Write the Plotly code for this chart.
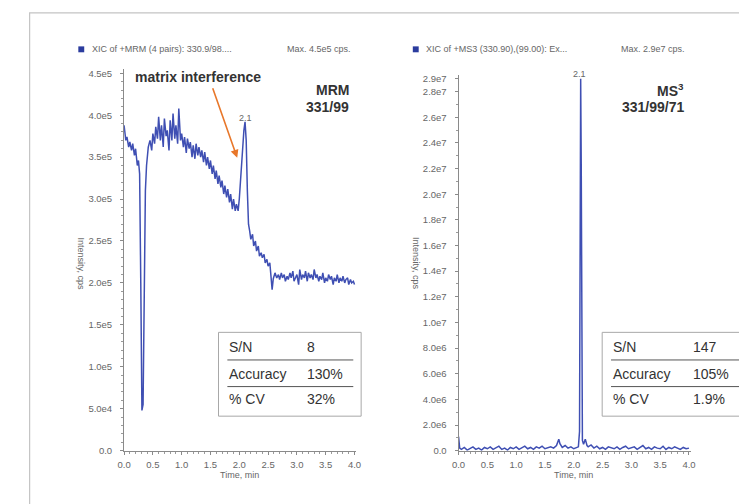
import plotly.graph_objects as go

# ---------------- data ----------------
# MRM 331/99 chromatogram (intensity in units of 1e5 cps)
mrm_time = [0.00, 0.03, 0.05, 0.08, 0.10, 0.13, 0.15, 0.18, 0.20, 0.23, 0.25, 0.27, 0.29, 0.31, 0.33, 0.35,
            0.37, 0.39, 0.42, 0.45, 0.48, 0.50, 0.53, 0.55, 0.58, 0.60, 0.63, 0.65, 0.68, 0.70, 0.73, 0.75,
            0.78, 0.80, 0.83, 0.85, 0.88, 0.90, 0.93, 0.95, 0.98, 1.00, 1.03, 1.05, 1.08, 1.10, 1.13, 1.15,
            1.18, 1.20, 1.23, 1.25, 1.28, 1.30, 1.33, 1.35, 1.38, 1.40, 1.43, 1.45, 1.48, 1.50, 1.53, 1.55,
            1.58, 1.60, 1.63, 1.65, 1.68, 1.70, 1.73, 1.75, 1.78, 1.80, 1.83, 1.85, 1.88, 1.90, 1.93, 1.95,
            1.98, 2.00, 2.03, 2.05, 2.08, 2.10, 2.12, 2.14, 2.16, 2.18, 2.20, 2.23, 2.25, 2.28, 2.30, 2.33,
            2.35, 2.38, 2.40, 2.43, 2.45, 2.48, 2.50, 2.53, 2.55, 2.57, 2.59, 2.62, 2.65, 2.68, 2.70, 2.73,
            2.75, 2.78, 2.80, 2.83, 2.85, 2.88, 2.90, 2.93, 2.95, 2.98, 3.00, 3.03, 3.05, 3.08, 3.10, 3.13,
            3.15, 3.18, 3.20, 3.23, 3.25, 3.28, 3.30, 3.33, 3.35, 3.38, 3.40, 3.43, 3.45, 3.48, 3.50, 3.53,
            3.55, 3.58, 3.60, 3.63, 3.65, 3.68, 3.70, 3.73, 3.75, 3.78, 3.80, 3.83, 3.85, 3.88, 3.90, 3.93,
            3.95, 3.98, 4.00]
mrm_int_e5 = [3.88, 3.70, 3.74, 3.62, 3.68, 3.58, 3.66, 3.52, 3.60, 3.40, 3.46, 3.30, 2.00, 0.48, 0.55, 1.60,
              3.10, 3.40, 3.62, 3.70, 3.58, 3.78, 3.66, 3.86, 3.72, 3.98, 3.70, 3.88, 3.62, 3.96, 3.75, 3.82,
              3.58, 3.94, 3.70, 4.02, 3.72, 3.88, 3.66, 4.08, 3.70, 3.78, 3.62, 3.74, 3.55, 3.72, 3.60, 3.68,
              3.50, 3.64, 3.48, 3.66, 3.52, 3.62, 3.50, 3.58, 3.44, 3.56, 3.40, 3.50, 3.36, 3.46, 3.30, 3.40,
              3.24, 3.34, 3.18, 3.28, 3.14, 3.22, 3.06, 3.16, 3.02, 3.12, 2.96, 3.06, 2.88, 3.00, 2.86, 2.94,
              2.86, 3.00, 3.30, 3.60, 3.82, 3.92, 3.70, 3.10, 2.70, 2.62, 2.52, 2.58, 2.44, 2.50, 2.38, 2.44,
              2.32, 2.36, 2.30, 2.34, 2.24, 2.28, 2.20, 2.24, 2.10, 1.92, 2.05, 2.12, 2.06, 2.10, 2.04, 2.12,
              2.06, 2.10, 2.02, 2.08, 2.04, 2.12, 2.06, 2.14, 2.02, 2.08, 2.10, 1.98, 2.16, 2.04, 2.10, 2.06,
              2.14, 2.02, 2.12, 2.06, 2.10, 2.04, 2.16, 2.06, 2.10, 2.02, 2.08, 2.04, 2.12, 2.00, 2.06, 2.02,
              2.10, 2.04, 2.08, 1.98, 2.06, 2.02, 2.10, 2.00, 2.06, 2.02, 2.08, 2.00, 2.04, 2.06, 1.98, 2.04,
              2.00, 2.02, 1.98]

# MS3 331/99/71 chromatogram (intensity in units of 1e6 cps)
ms3_time = [0.00, 0.02, 0.05, 0.10, 0.15, 0.20, 0.25, 0.30, 0.35, 0.40, 0.45, 0.50, 0.55, 0.60, 0.65, 0.70,
            0.75, 0.80, 0.85, 0.90, 0.95, 1.00, 1.05, 1.10, 1.15, 1.20, 1.25, 1.30, 1.35, 1.40, 1.45, 1.50,
            1.55, 1.60, 1.65, 1.70, 1.74, 1.76, 1.80, 1.85, 1.90, 1.95, 2.00, 2.05, 2.08, 2.10, 2.11, 2.12,
            2.13, 2.14, 2.15, 2.17, 2.20, 2.23, 2.25, 2.30, 2.35, 2.40, 2.45, 2.50, 2.55, 2.60, 2.65, 2.70,
            2.75, 2.80, 2.85, 2.90, 2.95, 3.00, 3.05, 3.10, 3.15, 3.20, 3.25, 3.30, 3.35, 3.40, 3.45, 3.50,
            3.55, 3.60, 3.65, 3.70, 3.75, 3.80, 3.85, 3.90, 3.95, 4.00]
ms3_int_e6 = [1.10, 0.20, 0.10, 0.25, 0.05, 0.15, 0.30, 0.10, 0.20, 0.05, 0.25, 0.15, 0.30, 0.10, 0.20, 0.35,
              0.10, 0.20, 0.05, 0.25, 0.15, 0.30, 0.10, 0.20, 0.35, 0.15, 0.25, 0.10, 0.30, 0.20, 0.35, 0.15,
              0.25, 0.30, 0.20, 0.40, 0.90, 0.55, 0.25, 0.40, 0.20, 0.30, 0.15, 0.25, 0.30, 1.50, 14.0, 29.0,
              22.0, 6.00, 0.80, 0.50, 0.90, 0.40, 0.30, 0.45, 0.20, 0.35, 0.15, 0.25, 0.10, 0.30, 0.20, 0.15,
              0.30, 0.10, 0.25, 0.35, 0.15, 0.20, 0.30, 0.10, 0.25, 0.40, 0.15, 0.25, 0.10, 0.30, 0.20, 0.15,
              0.35, 0.10, 0.25, 0.15, 0.30, 0.20, 0.10, 0.25, 0.15, 0.20]

x_tick_vals = [0.0, 0.5, 1.0, 1.5, 2.0, 2.5, 3.0, 3.5, 4.0]
x_tick_text = ["0.0", "0.5", "1.0", "1.5", "2.0", "2.5", "3.0", "3.5", "4.0"]
mrm_y_tick_vals = [0, 5e4, 1e5, 1.5e5, 2e5, 2.5e5, 3e5, 3.5e5, 4e5, 4.5e5]
mrm_y_tick_text = ["0.0", "5.0e4", "1.0e5", "1.5e5", "2.0e5", "2.5e5", "3.0e5", "3.5e5", "4.0e5", "4.5e5"]
ms3_y_tick_vals = [0, 2e6, 4e6, 6e6, 8e6, 1e7, 1.2e7, 1.4e7, 1.6e7, 1.8e7, 2e7, 2.2e7, 2.4e7, 2.6e7, 2.8e7, 2.9e7]
ms3_y_tick_text = ["0.0", "2.0e6", "4.0e6", "6.0e6", "8.0e6", "1.0e7", "1.2e7", "1.4e7", "1.6e7", "1.8e7",
                   "2.0e7", "2.2e7", "2.4e7", "2.6e7", "2.8e7", "2.9e7"]

mrm_stats = [("S/N", "8"), ("Accuracy", "130%"), ("% CV", "32%")]
ms3_stats = [("S/N", "147"), ("Accuracy", "105%"), ("% CV", "1.9%")]

# ---------------- layout helpers ----------------
W, H = 739, 504
def px(x):
    return x / W
def py(y):
    return 1 - y / H

LINE_COLOR = "#3f4fb3"
TEXT_GREY = "#666666"
DARK = "#333333"
FONT = "Liberation Sans, Arial, sans-serif"

fig = go.Figure()
fig.add_trace(go.Scatter(x=mrm_time, y=[v * 1e5 for v in mrm_int_e5], mode="lines",
                         line=dict(color=LINE_COLOR, width=1.5), xaxis="x", yaxis="y", showlegend=False))
fig.add_trace(go.Scatter(x=ms3_time, y=[v * 1e6 for v in ms3_int_e6], mode="lines",
                         line=dict(color=LINE_COLOR, width=1.5), xaxis="x2", yaxis="y2", showlegend=False))

def xaxis_cfg(d0, d1, anchor):
    return dict(domain=[px(d0), px(d1)], range=[0, 4.03], anchor=anchor,
                tickvals=x_tick_vals, ticktext=x_tick_text, showline=True, linecolor="#8a8a8a",
                linewidth=1, ticks="outside", ticklen=3, tickcolor="#8a8a8a", ticklabelstandoff=2,
                tickfont=dict(size=9.5, color=TEXT_GREY, family=FONT), showgrid=False, zeroline=False,
                minor=dict(dtick=0.1, ticks="outside", ticklen=2, tickcolor="#9a9a9a"))

def yaxis_cfg(top_px, rng, tv, tt, mdt, anchor):
    return dict(domain=[py(455), py(top_px)], range=rng, anchor=anchor,
                tickvals=tv, ticktext=tt, showline=True, linecolor="#8a8a8a", linewidth=1,
                ticks="outside", ticklen=3, tickcolor="#8a8a8a", ticklabelstandoff=6,
                tickfont=dict(size=9.5, color=TEXT_GREY, family=FONT), showgrid=False, zeroline=False,
                minor=dict(dtick=mdt, ticks="outside", ticklen=2, tickcolor="#9a9a9a"))

fig.update_layout(
    width=W, height=H, margin=dict(l=0, r=0, t=0, b=0),
    paper_bgcolor="white", plot_bgcolor="white", showlegend=False,
    xaxis=xaxis_cfg(119, 355, "y"),
    yaxis=yaxis_cfg(68, [0, 4.55e5], mrm_y_tick_vals, mrm_y_tick_text, 1e4, "x"),
    xaxis2=xaxis_cfg(459, 695, "y2"),
    yaxis2=yaxis_cfg(74, [0, 2.93e7], ms3_y_tick_vals, ms3_y_tick_text, 1e6, "x2"),
)

shapes = []
ann = []

# outer frame
shapes.append(dict(type="rect", xref="paper", yref="paper", x0=px(23), x1=px(760), y0=py(11), y1=py(530),
                   line=dict(color="#c4c4c4", width=1.2)))

def text(x, y, s, size=9, color=TEXT_GREY, xanchor="left", bold=False, angle=0):
    ann.append(dict(xref="paper", yref="paper", x=px(x), y=py(y), text=("<b>%s</b>" % s) if bold else s,
                    showarrow=False, xanchor=xanchor, yanchor="middle", textangle=angle,
                    font=dict(size=size, color=color, family=FONT)))

# panel headers
for sq_x, t1, t1x, t2, t2x in [(75.5, "XIC of +MRM (4 pairs): 330.9/98....", 84, "Max. 4.5e5 cps.", 283),
                                (415.5, "XIC of +MS3 (330.90),(99.00): Ex...", 424, "Max. 2.9e7 cps.", 622)]:
    shapes.append(dict(type="rect", xref="paper", yref="paper", x0=px(sq_x - 3), x1=px(sq_x + 3),
                       y0=py(51), y1=py(45), fillcolor="#2b3c9e", line=dict(width=0)))
    text(t1x, 48, t1, size=9)
    text(t2x, 48, t2, size=9)

# axis titles
for cx, tx in [(236, 75), (576, 415)]:
    text(cx, 480, "Time, min", size=9, xanchor="center")
    ann.append(dict(xref="paper", yref="paper", x=px(tx), y=py(265), text="Intensity, cps", showarrow=False,
                    textangle=90, xanchor="center", yanchor="middle",
                    font=dict(size=9, color=TEXT_GREY, family=FONT)))

# peak labels
text(242, 118, "2.1", size=9, xanchor="center")
text(582, 73, "2.1", size=9, xanchor="center")

# method labels
text(128, 76, "matrix interference", size=14, color=DARK, bold=True)
text(350, 89, "MRM", size=14, color=DARK, xanchor="right", bold=True)
text(350, 106, "331/99", size=14, color=DARK, xanchor="right", bold=True)
text(690, 89, "MS<sup>3</sup>", size=14, color=DARK, xanchor="right", bold=True)
text(690, 106, "331/99/71", size=14, color=DARK, xanchor="right", bold=True)

# orange arrow
ann.append(dict(xref="paper", yref="paper", x=px(234), y=py(158), ax=-25, ay=-71, text="",
                showarrow=True, arrowhead=2, arrowsize=1, arrowwidth=1.6, arrowcolor="#e8772a"))

# stats boxes
for bx0, bx1, lx0, lx1, c1, c2, stats in [(215, 360, 224, 352, 224, 303, mrm_stats),
                                           (605, 770, 614, 770, 614, 695, ms3_stats)]:
    shapes.append(dict(type="rect", xref="paper", yref="paper", x0=px(bx0), x1=px(bx1), y0=py(335), y1=py(420),
                       line=dict(color="#a8a8a8", width=1), fillcolor="white", layer="below"))
    for ly in (363, 390):
        shapes.append(dict(type="line", xref="paper", yref="paper", x0=px(lx0), x1=px(lx1), y0=py(ly), y1=py(ly),
                           line=dict(color="#555555", width=1)))
    for (lab, val), ry in zip(stats, (350, 377, 403)):
        text(c1, ry, lab, size=14, color=DARK)
        text(c2, ry, val, size=14, color=DARK)

fig.update_layout(shapes=shapes, annotations=ann)
fig.write_html("out.html")
